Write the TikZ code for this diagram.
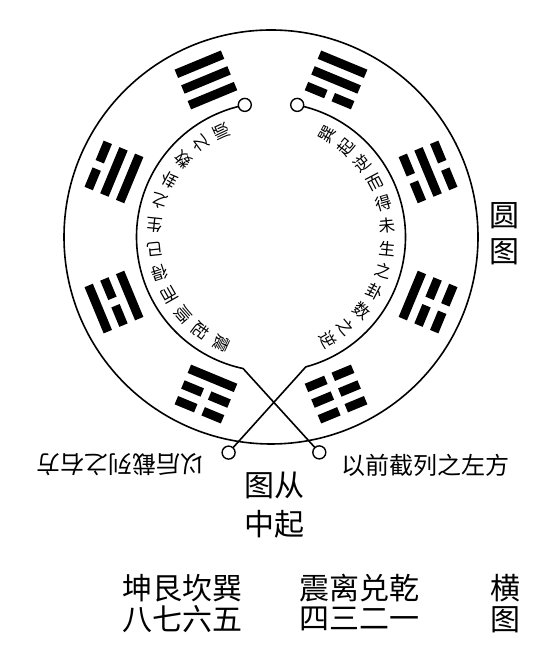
\documentclass[tikz,border=0pt]{standalone}
\usepackage{fontspec}
\setmainfont{Noto Sans CJK SC}
\newcommand\yaobar[2]{%
  \ifnum#2=1 \fill (-25,#1-4.5) rectangle (25,#1+4.5);%
  \else \fill (-25,#1-4.5) rectangle (-4,#1+4.5); \fill (4,#1-4.5) rectangle (25,#1+4.5);\fi}
\begin{document}
\begin{tikzpicture}[x=1pt,y=1pt,
  dot/.style={circle, draw, fill=white, inner sep=0pt, outer sep=0pt, minimum size=13pt, line width=1.4pt},
  ring/.style={line width=1.6pt},
  arcch/.style={inner sep=0pt, font=\fontsize{16.5}{17}\selectfont},
  big/.style={inner sep=0pt, font=\fontsize{30}{32}\selectfont},
  side/.style={inner sep=0pt, font=\fontsize{24}{26}\selectfont}]
\fill[white] (0,0) rectangle (558,652);
\useasboundingbox (0,0) rectangle (558,652);
\coordinate (C) at (271,415);
\draw[ring] (C) circle[radius=207pt];
\node[dot] (tl) at (244.8,547.1) {};
\node[dot] (tr) at (297.2,547.1) {};
\node[dot] (bl) at (228.6,199.4) {};
\node[dot] (br) at (319.3,199.6) {};
\draw[ring] (tl.194) arc[start angle=104, end angle=258, radius=134.5pt] -- (br);
\draw[ring] (tr.-14) arc[start angle=76, end angle=-75, radius=134.5pt] -- (bl);
% trigrams (inner/middle/outer: 1 solid, 0 broken)
\begin{scope}[shift={(C)}]
\foreach \a/\i/\m/\o in {112.5/1/1/1, 67.5/0/1/1, 22.5/0/1/0, -22.5/1/0/0, -67.5/0/0/0, -112.5/1/0/0, -157.5/1/0/1, 157.5/1/1/0}{
  \begin{scope}[shift={(\a:170)}, rotate=\a-90]
    \yaobar{-17}{\i}
    \yaobar{0}{\m}
    \yaobar{17}{\o}
  \end{scope}}
\end{scope}
% inner texts along the arc
\foreach \c [count=\k from 0] in {巽,起,逆,而,得,未,生,之,卦,数,之,逆}{
  \pgfmathsetmacro\ang{61-11.1*\k}
  \node[arcch, rotate=\ang] (r\k) at ([shift={(\ang:117)}]C) {\c};}
\foreach \c [count=\k from 0] in {震,起,顺,而,得,已,生,之,卦,数,之,顺}{
  \pgfmathsetmacro\ang{245-11.8*\k}
  \node[arcch, rotate=\ang] (l\k) at ([shift={(\ang:117)}]C) {\c};}
% labels
\node[big] (y1) at (504,436) {圆};
\node[big] (y2) at (504,400) {图};
\node[big] (m1) at (274,167) {图从};
\node[big] (m2) at (274,128) {中起};
\node[side, rotate=180] (lt) at (120,187) {以后截列之右方};
\node[side] (rt) at (425,187) {以前截列之左方};
\node[big] (b1) at (182,64) {坤艮坎巽};
\node[big] (b2) at (182,33) {八七六五};
\node[big] (b3) at (359,64) {震离兑乾};
\node[big] (b4) at (359,33) {四三二一};
\node[big] (b5) at (505,64) {横};
\node[big] (b6) at (505,32) {图};
\end{tikzpicture}
\end{document}
